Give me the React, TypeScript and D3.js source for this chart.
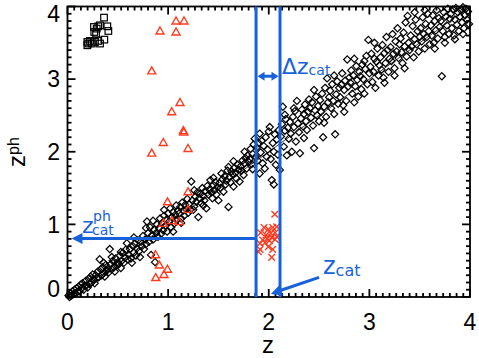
import * as d3 from 'd3'

const width = 479
const height = 358

// spectroscopic z vs photometric z
const diamonds: [number, number][] = [
  [0.01,0.02],[0.02,0.0],[0.03,0.05],[0.04,0.02],[0.05,0.08],[0.06,0.04],[0.07,0.1],[0.08,0.05],[0.09,0.12],[0.1,0.07],
  [0.11,0.14],[0.12,0.08],[0.13,0.17],[0.14,0.12],[0.15,0.19],[0.16,0.1],[0.17,0.15],[0.18,0.22],[0.19,0.16],[0.2,0.13],
  [0.21,0.25],[0.22,0.18],[0.23,0.28],[0.24,0.2],[0.25,0.31],[0.26,0.24],[0.27,0.19],[0.28,0.3],[0.29,0.26],[0.3,0.35],
  [0.31,0.27],[0.32,0.52],[0.33,0.38],[0.34,0.3],[0.35,0.41],[0.36,0.33],[0.37,0.28],[0.38,0.44],[0.39,0.36],[0.4,0.39],[0.36,0.47],
  [0.41,0.34],[0.42,0.66],[0.43,0.45],[0.44,0.38],[0.45,0.5],[0.46,0.41],[0.47,0.35],[0.48,0.53],[0.49,0.44],[0.5,0.48],[0.44,0.55],
  [0.51,0.45],[0.52,0.57],[0.53,0.4],[0.54,0.5],[0.55,0.61],[0.56,0.47],[0.57,0.54],[0.58,0.65],[0.59,0.74],[0.6,0.52],[0.53,0.62],
  [0.61,0.58],[0.62,0.66],[0.63,0.53],[0.64,0.47],[0.65,0.7],[0.66,0.61],[0.67,0.74],[0.68,0.57],[0.69,0.67],[0.7,0.78],[0.66,0.82],
  [0.71,0.63],[0.72,0.55],[0.73,0.76],[0.74,0.7],[0.75,0.84],[0.76,0.66],[0.77,0.79],[0.78,0.73],[0.79,1.04],[0.8,0.88],[0.78,0.95],
  [0.81,0.76],[0.82,0.96],[0.83,0.58],[0.84,0.85],[0.85,0.79],[0.86,0.93],[0.87,0.48],[0.88,0.88],[0.89,1.0],[0.9,0.83],[0.85,1.05],
  [0.91,0.95],[0.92,1.08],[0.93,0.87],[0.94,1.02],[0.95,0.92],[0.96,1.12],[0.97,0.98],[0.98,1.06],[0.99,0.9],[1.0,1.15],[0.96,1.2],
  [1.01,1.04],[1.02,1.22],[1.03,0.96],[1.04,1.1],[1.05,1.17],[1.06,1.01],[1.07,1.13],[1.08,1.26],[1.09,1.07],[1.1,1.19],[1.05,0.9],
  [1.11,1.15],[1.12,1.24],[1.13,1.08],[1.14,1.3],[1.15,1.19],[1.16,1.12],[1.17,1.27],[1.18,1.21],[1.19,1.35],[1.2,1.16],[1.13,1.02],
  [1.21,1.28],[1.22,1.2],[1.23,1.59],[1.24,1.33],[1.25,1.2],[1.26,1.25],[1.27,1.38],[1.28,1.31],[1.29,1.44],[1.3,1.1],[1.26,1.47],
  [1.31,1.36],[1.32,1.42],[1.33,1.29],[1.34,1.5],[1.35,1.39],[1.36,1.33],[1.37,1.46],[1.38,1.22],[1.39,1.53],[1.4,1.41],[1.35,1.26],
  [1.41,1.48],[1.42,1.61],[1.43,1.44],[1.44,1.36],[1.45,1.54],[1.46,1.47],[1.47,1.58],[1.48,1.41],[1.49,1.51],[1.5,1.33],[1.45,1.64],
  [1.51,1.57],[1.52,1.5],[1.53,1.7],[1.54,1.62],[1.55,1.45],[1.56,1.66],[1.57,1.55],[1.58,1.6],[1.59,1.74],[1.6,1.24],[1.6,1.79],
  [1.61,1.65],[1.62,1.58],[1.63,1.73],[1.64,1.69],[1.65,1.52],[1.66,1.78],[1.67,1.71],[1.68,1.63],[1.69,1.82],[1.7,1.75],[1.65,1.87],
  [1.71,1.59],[1.72,1.8],[1.73,1.74],[1.74,1.88],[1.75,1.68],[1.76,1.84],[1.77,1.91],[1.78,1.77],[1.79,1.95],[1.8,1.86],[1.76,2.0],
  [1.81,1.9],[1.82,2.04],[1.83,1.83],[1.84,1.97],[1.85,2.1],[1.86,2.18],[1.87,1.93],[1.88,2.06],[1.89,1.88],[1.9,2.12],[1.84,1.76],
  [1.91,1.7],[1.91,2.25],[1.92,1.99],[1.93,2.15],[1.94,1.84],[1.95,2.08],[1.96,1.77],[1.97,2.2],[1.98,1.93],[1.99,2.03],[2.0,2.28],
  [2.01,2.34],[2.02,1.9],[2.03,1.61],[2.04,2.12],[2.05,2.0],[2.06,2.24],[2.07,1.82],[2.08,2.17],[2.09,1.96],[2.1,2.3],[2.05,1.55],
  [2.11,1.75],[2.12,2.21],[2.13,2.38],[2.14,2.62],[2.15,2.07],[2.16,2.29],[2.17,2.45],[2.18,1.95],[2.19,2.33],[2.2,2.18],[2.16,2.51],
  [2.21,2.41],[2.22,2.25],[2.23,2.0],[2.24,2.48],[2.25,2.34],[2.26,2.56],[2.27,2.14],[2.28,2.7],[2.29,2.39],[2.3,2.27],[2.25,2.6],
  [2.31,1.98],[2.32,2.46],[2.33,2.58],[2.34,2.35],[2.35,2.52],[2.36,2.65],[2.37,2.42],[2.38,2.3],[2.39,2.55],[2.4,2.72],[2.35,2.19],
  [2.41,2.6],[2.42,2.47],[2.43,2.68],[2.44,2.36],[2.45,2.05],[2.46,2.57],[2.47,2.76],[2.48,2.5],[2.49,2.63],[2.5,2.42],[2.45,2.85],
  [2.51,2.71],[2.52,2.55],[2.53,2.8],[2.54,2.2],[2.55,2.62],[2.56,2.88],[2.57,2.48],[2.58,3.01],[2.59,2.68],[2.6,2.75],[2.55,2.4],
  [2.61,2.84],[2.62,2.6],[2.63,2.93],[2.64,2.7],[2.65,2.52],[2.66,2.24],[2.67,2.79],[2.68,2.97],[2.69,2.66],[2.7,2.88],[2.65,3.05],
  [2.71,2.75],[2.72,2.92],[2.73,3.08],[2.74,2.64],[2.75,2.85],[2.76,2.98],[2.77,2.7],[2.78,3.27],[2.79,2.9],[2.8,3.02],[2.75,2.55],
  [2.81,2.95],[2.82,3.12],[2.83,2.8],[2.84,3.05],[2.85,2.68],[2.86,2.9],[2.87,3.18],[2.88,2.99],[2.89,2.76],[2.9,3.1],[2.85,3.28],
  [2.91,3.04],[2.92,2.86],[2.93,3.2],[2.94,3.0],[2.95,2.8],[2.96,3.14],[2.97,3.32],[2.98,2.93],[2.99,3.54],[3.0,3.08],[2.95,3.25],
  [3.01,3.17],[3.02,3.35],[3.03,2.96],[3.04,3.1],[3.05,3.28],[3.06,2.88],[3.07,3.24],[3.08,3.42],[3.09,3.05],[3.1,3.19],[3.05,3.5],
  [3.11,3.3],[3.12,3.13],[3.13,3.47],[3.14,3.02],[3.15,3.36],[3.16,3.22],[3.17,3.58],[3.18,3.4],[3.19,3.1],[3.2,3.28],[3.15,2.95],
  [3.21,3.44],[3.22,3.25],[3.23,3.62],[3.24,3.35],[3.25,3.15],[3.26,3.52],[3.27,3.38],[3.28,3.7],[3.29,3.29],[3.3,3.48],[3.25,3.05],
  [3.31,3.56],[3.32,3.37],[3.33,3.22],[3.34,3.64],[3.35,3.45],[3.36,3.78],[3.37,3.31],[3.38,3.87],[3.39,3.5],[3.4,3.4],[3.35,3.15],
  [3.41,3.6],[3.42,3.45],[3.43,3.73],[3.44,3.3],[3.45,3.55],[3.46,3.82],[3.47,3.48],[3.48,3.66],[3.49,3.38],[3.5,3.58],[3.45,3.92],
  [3.51,3.7],[3.52,3.52],[3.53,3.85],[3.54,3.62],[3.55,3.42],[3.56,3.76],[3.57,3.58],[3.58,3.9],[3.59,3.66],[3.6,3.48],[3.55,3.95],
  [3.61,3.74],[3.62,3.6],[3.63,3.88],[3.64,3.5],[3.65,3.8],[3.66,3.67],[3.67,3.95],[3.68,3.56],[3.69,3.84],[3.7,3.72],[3.65,3.42],
  [3.71,3.8],[3.72,3.04],[3.73,3.66],[3.74,3.92],[3.75,3.58],[3.76,3.86],[3.77,3.74],[3.78,3.97],[3.79,3.62],[3.8,3.83],[3.75,3.5],
  [3.81,3.9],[3.82,3.7],[3.83,3.96],[3.84,3.6],[3.85,3.82],[3.86,3.98],[3.87,3.75],[3.88,3.92],[3.89,3.66],[3.9,3.86],[3.85,3.55],
  [3.91,3.95],[3.92,3.78],[3.93,3.99],[3.94,3.7],[3.95,3.88],[3.96,3.97],[3.97,3.82],[3.98,3.93],[3.99,3.76],[3.93,3.62],
]

const squares: [number, number][] = [
  [0.363,3.847],[0.323,3.741],[0.396,3.727],[0.406,3.663],[0.263,3.718],[0.29,3.696],[0.284,3.627],[0.266,3.649],[0.306,3.727],
  [0.197,3.512],[0.197,3.466],[0.224,3.526],[0.241,3.49],[0.273,3.512],[0.306,3.526],[0.323,3.49],[0.366,3.544],[0.206,3.49],
]

const triangles: [number, number][] = [
  [1.079,3.8],[1.158,3.8],[0.919,3.663],[1.079,3.649],[0.837,3.113],[1.118,2.678],[1.036,2.551],[1.151,2.29],[1.156,2.27],
  [0.952,2.127],[1.198,2.045],[0.837,1.981],[1.198,1.449],[0.994,1.311],[1.198,1.206],[0.952,1.014],[1.036,1.052],[1.109,1.038],
  [0.875,0.582],[0.913,0.44],[0.994,0.382],[0.959,0.31],[0.877,0.268],
]

const crosses: [number, number][] = [
  [1.953,0.958],[1.996,0.931],[2.039,0.958],[2.079,0.967],[1.92,0.885],[1.973,0.853],[2.02,0.876],[2.063,0.885],
  [1.94,0.784],[1.986,0.807],[2.029,0.821],[2.079,0.83],[1.913,0.739],[1.963,0.747],[2.006,0.775],[2.063,0.794],
  [1.913,0.656],[1.996,0.692],[2.039,0.656],[2.029,0.546],[1.897,0.623],[2.06,1.14],
]

const xTicks = [0, 1, 2, 3, 4]
const yTicks = [0, 1, 2, 3, 4]

// annotation values
const zCat = 2.112
const zCatLow = 1.874
const zphCat = 0.807
const deltaY = 3.04

const blue = '#1762da'
const red = '#ff3b1f'

const x = d3.scaleLinear().domain([0, 4]).range([67.5, 470])
const y = d3.scaleLinear().domain([0, 4]).range([297, 6.5])

const xMinor = d3.range(0, 60).map((i) => i / 15).filter((v) => v % 1 !== 0)
const yMinor = d3.range(0, 40).map((i) => i / 10).filter((v) => v % 1 !== 0)

const head = (x1: number, y1: number, x2: number, y2: number, len: number, half: number) => {
  const a = Math.atan2(y2 - y1, x2 - x1)
  const bx = x2 - len * Math.cos(a)
  const by = y2 - len * Math.sin(a)
  const px = -Math.sin(a) * half
  const py = Math.cos(a) * half
  return `${x2},${y2} ${bx + px},${by + py} ${bx - px},${by - py}`
}

const App = () => {
  const [x0, x1] = x.range()
  const [y0, y1] = y.range()
  const xl = x(zCatLow)
  const xc = x(zCat)
  const yh = y(zphCat)
  const yd = y(deltaY)
  const tip = [x(2.02), y(0) - 3]
  const tail = [x(2.5), y(0.27)]

  return (
    <svg width={width} height={height} style={{ position: 'absolute', left: 0, top: 0 }}>
      <rect width={width} height={height} fill="white" />
      <line x1={x(0)} y1={y(0)} x2={x(4)} y2={y(4)} stroke="black" strokeWidth={0.8} />

      <g fill="none" stroke="black" strokeWidth={1.2}>
        {diamonds.map(([a, b], i) => (
          <path key={i} d={`M${x(a)},${y(b) - 3.6}L${x(a) + 3.6},${y(b)}L${x(a)},${y(b) + 3.6}L${x(a) - 3.6},${y(b)}Z`} />
        ))}
        {squares.map(([a, b], i) => (
          <rect key={i} x={x(a) - 3.3} y={y(b) - 3.3} width={6.6} height={6.6} />
        ))}
      </g>
      <g fill="none" stroke={red} strokeWidth={1.4}>
        {triangles.map(([a, b], i) => (
          <path key={i} d={`M${x(a)},${y(b) - 4}L${x(a) + 4},${y(b) + 3}L${x(a) - 4},${y(b) + 3}Z`} />
        ))}
        {crosses.map(([a, b], i) => (
          <path key={i} d={`M${x(a) - 3.3},${y(b) - 3.3}L${x(a) + 3.3},${y(b) + 3.3}M${x(a) - 3.3},${y(b) + 3.3}L${x(a) + 3.3},${y(b) - 3.3}`} />
        ))}
      </g>

      {/* frame and ticks */}
      <g stroke="black" strokeWidth={1.8}>
        <rect x={x0} y={y1} width={x1 - x0} height={y0 - y1} fill="none" />
        {xTicks.map((t) => (
          <g key={t}>
            <line x1={x(t)} x2={x(t)} y1={y0} y2={y0 - 8} />
            <line x1={x(t)} x2={x(t)} y1={y1} y2={y1 + 8} />
          </g>
        ))}
        {xMinor.map((t) => (
          <g key={t}>
            <line x1={x(t)} x2={x(t)} y1={y0} y2={y0 - 4} />
            <line x1={x(t)} x2={x(t)} y1={y1} y2={y1 + 4} />
          </g>
        ))}
        {yTicks.map((t) => (
          <g key={t}>
            <line x1={x0} x2={x0 + 8} y1={y(t)} y2={y(t)} />
            <line x1={x1} x2={x1 - 8} y1={y(t)} y2={y(t)} />
          </g>
        ))}
        {yMinor.map((t) => (
          <g key={t}>
            <line x1={x0} x2={x0 + 4} y1={y(t)} y2={y(t)} />
            <line x1={x1} x2={x1 - 4} y1={y(t)} y2={y(t)} />
          </g>
        ))}
      </g>

      <g fontFamily="Liberation Sans, Arial, sans-serif" fontSize={23} fill="black">
        {xTicks.map((t) => (
          <text key={t} x={x(t)} y={329.5} textAnchor="middle">{t}</text>
        ))}
        {yTicks.map((t) => (
          <text key={t} x={60} y={Math.min(Math.max(y(t), 14), 289)} dy="0.36em" textAnchor="end">{t}</text>
        ))}
        <text x={268} y={353} textAnchor="middle" fontSize={24}>z</text>
        <text transform="translate(25,167) rotate(-90)" fontSize={24}>
          z<tspan fontSize={16} dy={-6}>ph</tspan>
        </text>
      </g>

      {/* annotations */}
      <g stroke={blue} strokeWidth={3} fill="none">
        <line x1={xl} x2={xl} y1={y1} y2={y0} />
        <line x1={xc} x2={xc} y1={y1} y2={y0} />
        <line x1={xl} x2={x(0.1)} y1={yh} y2={yh} />
        <line x1={xl + 5} x2={xc - 5} y1={yd} y2={yd} />
        <line x1={tail[0]} y1={tail[1]} x2={tip[0] + 8} y2={tip[1] - 3} />
      </g>
      <g fill={blue}>
        <polygon points={head(xl, yh, x(0.04), yh, 11, 5.5)} />
        <polygon points={head(xc, yd, xl + 1.5, yd, 7, 4.5)} />
        <polygon points={head(xl, yd, xc - 1.5, yd, 7, 4.5)} />
        <polygon points={head(tail[0], tail[1], tip[0], tip[1], 11, 5.5)} />
      </g>
      <g fontFamily="DejaVu Sans, sans-serif" fill={blue}>
        <text x={282} y={73.5} fontSize={22}>
          Δz<tspan fontSize={14} dy={1}>cat</tspan>
        </text>
        <text x={323} y={274} fontSize={24}>
          z<tspan fontSize={16} dy={2}>cat</tspan>
        </text>
        <text x={82} y={233} fontSize={22}>z</text>
        <text x={93} y={221} fontSize={14}>ph</text>
        <text x={92} y={235} fontSize={14}>cat</text>
      </g>
    </svg>
  )
}

export default App
